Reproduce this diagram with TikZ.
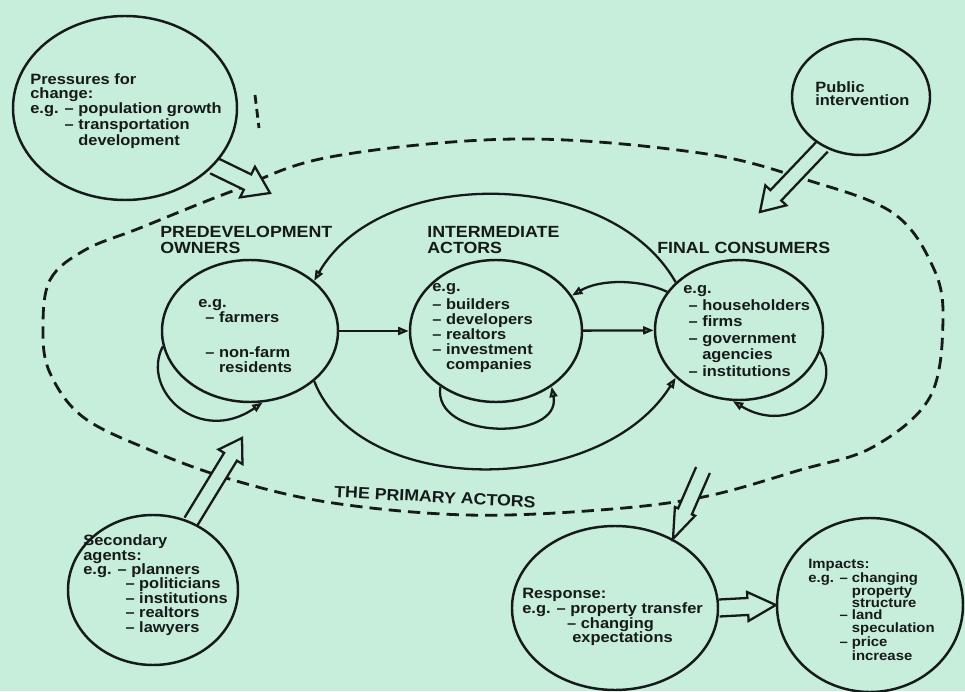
\documentclass[tikz,border=0pt]{standalone}
\usepackage{fontspec}
\setmainfont{Liberation Sans}[FakeStretch=1.1]
\usetikzlibrary{arrows.meta,calc,shapes.geometric}

\definecolor{paper}{RGB}{199,237,219}
\definecolor{ink}{RGB}{22,26,24}

\pgfdeclarelayer{under}
\pgfsetlayers{under,main}

\tikzset{
  bubble/.style 2 args={ellipse, draw=ink, line width=1.4pt, minimum width=#1*0.02cm, minimum height=#2*0.02cm, inner sep=0pt},
  txt/.style={font=\fontsize{8.5}{#1}\selectfont\bfseries, text=ink, align=left, inner sep=0pt, anchor=west},
  head/.style={font=\fontsize{9.2}{9.1}\selectfont\bfseries, text=ink, align=left, inner sep=0pt, anchor=west},
  flow/.style={draw=ink, line width=1.3pt, -{Triangle[open,length=6pt,width=4.5pt]}},
  fat/.style={draw=ink, line width=1.3pt, fill=paper, line join=miter},
  boundary/.style={draw=ink, line width=1.6pt, dash pattern=on 7pt off 4pt},
}

% hollow broad arrow: start, tip, shaft half width, head half width, head length (px)
\newcommand{\fatarrow}[5]{%
  \pgfmathsetlengthmacro{\faw}{#3*0.02cm}%
  \pgfmathsetlengthmacro{\fah}{#4*0.02cm}%
  \pgfmathsetlengthmacro{\fal}{#5*0.02cm}%
  \coordinate (fa-neck) at ($(#2)!\fal!(#1)$);
  \draw[fat] ($(#1)!\faw!90:(#2)$) -- ($(fa-neck)!\faw!90:(#2)$) -- ($(fa-neck)!\fah!90:(#2)$) -- (#2)
    -- ($(fa-neck)!\fah!-90:(#2)$) -- ($(fa-neck)!\faw!-90:(#2)$) -- ($(#1)!\faw!-90:(#2)$);
}

\begin{document}
\begin{tikzpicture}[x=0.02cm,y=0.02cm]
    \useasboundingbox (0,0) rectangle (965,691);
    \begin{pgfonlayer}{under}
        \fill[paper] (0,0) rectangle (965,691);
    \end{pgfonlayer}

    % outside influences
    \node[bubble={224}{184}] (press) at (125,583) {};
    \node[txt=7.8] (presstxt) at (30,580) {Pressures for\\change:\\e.g. – population growth\\\hphantom{e.g. }– transportation\\\hphantom{e.g. – }development};
    \node[bubble={138}{116}] (pub) at (861,594) {};
    \node[txt=7.5] (pubtxt) at (815,597) {Public\\intervention};
    \node[bubble={170}{150}] (sec) at (153,101) {};
    \node[txt=8.2] (sectxt) at (83,106) {Secondary\\agents:\\e.g. – planners\\\hspace*{24pt}– politicians\\\hspace*{24pt}– institutions\\\hspace*{24pt}– realtors\\\hspace*{24pt}– lawyers};

    % the primary actors
    \node[head] (predhead) at (160,451) {PREDEVELOPMENT\\OWNERS};
    \node[bubble={176}{142}] (pred) at (250,360) {};
    \node[txt=8.5] (predtxt) at (198,355) {e.g.\\\hspace*{4pt}– farmers\\[11pt]\hspace*{4pt}– non-farm\\\hspace*{4pt}\hphantom{– }residents};
    \node[head] (interhead) at (427,451) {INTERMEDIATE\\ACTORS};
    \node[bubble={172}{142}] (inter) at (496,360) {};
    \node[txt=8.5] (intertxt) at (432,363) {e.g.\\[2pt]– builders\\– developers\\– realtors\\– investment\\\hphantom{– }companies};
    \node[head] (finhead) at (657,443) {FINAL CONSUMERS};
    \node[bubble={168}{140}] (fin) at (739,361) {};
    \node[txt=9.4] (fintxt) at (683,360) {e.g.\\\hspace*{3pt}– householders\\\hspace*{3pt}– firms\\\hspace*{3pt}– government\\\hspace*{3pt}\hphantom{– }agencies\\\hspace*{3pt}– institutions};
    \node[head, anchor=center, rotate=-3] (primary) at (435,194) {THE PRIMARY ACTORS};

    % outcomes
    \node[bubble={206}{164}] (resp) at (615,83) {};
    \node[txt=8.5] (resptxt) at (522,74) {Response:\\e.g. – property transfer\\\hspace*{25.5pt}– changing\\\hspace*{28.4pt}expectations};
    \node[bubble={186}{174}] (imp) at (870,86) {};
    \node[txt=7.0, font=\fontsize{7.7}{7.0}\selectfont\bfseries] (imptxt) at (808,81) {Impacts:\\e.g. – changing\\\hphantom{e.g. – }property\\\hphantom{e.g. – }structure\\\hphantom{e.g. }– land\\\hphantom{e.g. – }speculation\\\hphantom{e.g. }– price\\\hphantom{e.g. – }increase};

    % flows between actors
    \draw[flow] (pred) -- (inter);
    \draw[flow] (inter) -- (fin);
    \draw[flow] (fin.152) .. controls (640,412) and (600,412) .. (inter.25);
    \draw[flow] (fin.143) .. controls (610,525) and (380,525) .. (pred.38);
    \draw[flow] (pred.-38) .. controls (360,193) and (600,193) .. (fin.-143);
    \draw[flow] (pred.190) .. controls (140,300) and (200,245) .. (pred.-80);
    \draw[flow] (inter.225) .. controls (432,250) and (562,250) .. (inter.-45);
    \draw[flow] (fin.-15) .. controls (845,300) and (790,255) .. (fin.-95);

    \coordinate (ptip) at (270,498);
    \coordinate (pubtip) at (760,479);
    \coordinate (sectip) at (242,253);
    \coordinate (rstart) at (703,221);

    \begin{pgfonlayer}{under}
        % system boundary
        \draw[boundary] plot[smooth cycle, tension=0.6] coordinates {(43,361) (50,411) (85,441) (140,463) (230,499) (330,534) (517,552) (700,538) (807,511) (893,478) (933,424) (943,371) (930,294) (873,244) (800,221) (703,194) (600,181) (467,176) (333,188) (233,211) (150,241) (83,274) (50,318)};
        \draw[boundary, dash pattern=on 5pt off 3pt] (255,596) -- (259,563);
        % broad arrows
        \fatarrow{press.-33}{ptip}{8.5}{17}{25}
        \fatarrow{pub.-128}{pubtip}{7.5}{14.5}{23}
        \fatarrow{sec.61}{sectip}{7.5}{14}{22}
        \fatarrow{rstart}{resp.50}{7.5}{11}{30}
        \fatarrow{resp.east}{imp.west}{8.5}{14.5}{28}
    \end{pgfonlayer}
\end{tikzpicture}
\end{document}
